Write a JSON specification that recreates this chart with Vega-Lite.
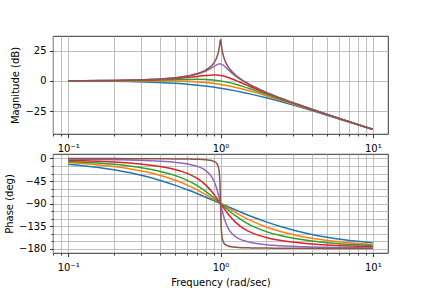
{
  "$schema": "https://vega.github.io/schema/vega-lite/v6.json",
  "background": "white",
  "padding": {"left": 4, "top": 35, "right": 43, "bottom": 2},
  "config": {
    "font": "DejaVu Sans",
    "view": {"stroke": "black", "strokeWidth": 0.8},
    "axis": {
      "domain": false,
      "labelFont": "DejaVu Sans",
      "titleFont": "DejaVu Sans",
      "labelFontSize": 10,
      "titleFontSize": 10,
      "titleFontWeight": "normal",
      "labelColor": "black",
      "titleColor": "black",
      "tickColor": "black",
      "tickWidth": 0.8,
      "gridColor": "#b0b0b0",
      "gridWidth": 0.8,
      "labelPadding": 3.5,
      "labelOverlap": false,
      "labelFlush": false
    },
    "axisX": {"labelPadding": 5.5, "titlePadding": 5}
  },
  "data": {"values": [
    {"z":"1.0","w":0.1,"m":-0.086,"p":-11.42},
    {"z":"1.0","w":0.125893,"m":-0.137,"p":-14.35},
    {"z":"1.0","w":0.158489,"m":-0.216,"p":-18.01},
    {"z":"1.0","w":0.199526,"m":-0.339,"p":-22.57},
    {"z":"1.0","w":0.251189,"m":-0.531,"p":-28.20},
    {"z":"1.0","w":0.316228,"m":-0.828,"p":-35.10},
    {"z":"1.0","w":0.398107,"m":-1.278,"p":-43.41},
    {"z":"1.0","w":0.501187,"m":-1.946,"p":-53.24},
    {"z":"1.0","w":0.630957,"m":-2.911,"p":-64.49},
    {"z":"1.0","w":0.707946,"m":-3.529,"p":-70.60},
    {"z":"1.0","w":0.794328,"m":-4.249,"p":-76.92},
    {"z":"1.0","w":0.891251,"m":-5.078,"p":-83.42},
    {"z":"1.0","w":1,"m":-6.021,"p":-90},
    {"z":"1.0","w":1.122018,"m":-7.078,"p":-96.58},
    {"z":"1.0","w":1.258925,"m":-8.249,"p":-103.08},
    {"z":"1.0","w":1.412538,"m":-9.529,"p":-109.40},
    {"z":"1.0","w":1.584893,"m":-10.911,"p":-115.51},
    {"z":"1.0","w":1.995262,"m":-13.946,"p":-126.76},
    {"z":"1.0","w":2.511886,"m":-17.278,"p":-136.59},
    {"z":"1.0","w":3.162278,"m":-20.828,"p":-144.90},
    {"z":"1.0","w":3.981072,"m":-24.531,"p":-151.80},
    {"z":"1.0","w":5.011872,"m":-28.339,"p":-157.43},
    {"z":"1.0","w":6.309573,"m":-32.216,"p":-161.99},
    {"z":"1.0","w":7.943282,"m":-36.137,"p":-165.65},
    {"z":"1.0","w":10,"m":-40.086,"p":-168.58},

    {"z":"0.7","w":0.1,"m":0.001,"p":-8.05},
    {"z":"0.7","w":0.125893,"m":0.002,"p":-10.15},
    {"z":"0.7","w":0.158489,"m":0.002,"p":-12.82},
    {"z":"0.7","w":0.199526,"m":0.000,"p":-16.22},
    {"z":"0.7","w":0.251189,"m":-0.006,"p":-20.57},
    {"z":"0.7","w":0.316228,"m":-0.026,"p":-26.19},
    {"z":"0.7","w":0.398107,"m":-0.081,"p":-33.52},
    {"z":"0.7","w":0.501187,"m":-0.225,"p":-43.14},
    {"z":"0.7","w":0.630957,"m":-0.579,"p":-55.73},
    {"z":"0.7","w":0.707946,"m":-0.903,"p":-63.29},
    {"z":"0.7","w":0.794328,"m":-1.376,"p":-71.64},
    {"z":"0.7","w":0.891251,"m":-2.039,"p":-80.64},
    {"z":"0.7","w":1,"m":-2.923,"p":-90},
    {"z":"0.7","w":1.122018,"m":-4.039,"p":-99.36},
    {"z":"0.7","w":1.258925,"m":-5.376,"p":-108.36},
    {"z":"0.7","w":1.412538,"m":-6.903,"p":-116.71},
    {"z":"0.7","w":1.584893,"m":-8.579,"p":-124.27},
    {"z":"0.7","w":1.995262,"m":-12.225,"p":-136.86},
    {"z":"0.7","w":2.511886,"m":-16.081,"p":-146.48},
    {"z":"0.7","w":3.162278,"m":-20.026,"p":-153.81},
    {"z":"0.7","w":3.981072,"m":-24.006,"p":-159.43},
    {"z":"0.7","w":5.011872,"m":-28.000,"p":-163.78},
    {"z":"0.7","w":6.309573,"m":-31.998,"p":-167.18},
    {"z":"0.7","w":7.943282,"m":-35.998,"p":-169.85},
    {"z":"0.7","w":10,"m":-39.999,"p":-171.95},

    {"z":"0.5","w":0.1,"m":0.043,"p":-5.77},
    {"z":"0.5","w":0.125893,"m":0.068,"p":-7.29},
    {"z":"0.5","w":0.158489,"m":0.108,"p":-9.23},
    {"z":"0.5","w":0.199526,"m":0.169,"p":-11.74},
    {"z":"0.5","w":0.251189,"m":0.265,"p":-15.01},
    {"z":"0.5","w":0.316228,"m":0.410,"p":-19.36},
    {"z":"0.5","w":0.398107,"m":0.622,"p":-25.32},
    {"z":"0.5","w":0.501187,"m":0.905,"p":-33.80},
    {"z":"0.5","w":0.630957,"m":1.190,"p":-46.35},
    {"z":"0.5","w":0.707946,"m":1.249,"p":-54.83},
    {"z":"0.5","w":0.794328,"m":1.151,"p":-65.08},
    {"z":"0.5","w":0.891251,"m":0.775,"p":-77.01},
    {"z":"0.5","w":1,"m":0,"p":-90},
    {"z":"0.5","w":1.122018,"m":-1.225,"p":-102.99},
    {"z":"0.5","w":1.258925,"m":-2.849,"p":-114.92},
    {"z":"0.5","w":1.412538,"m":-4.751,"p":-125.17},
    {"z":"0.5","w":1.584893,"m":-6.810,"p":-133.65},
    {"z":"0.5","w":1.995262,"m":-11.095,"p":-146.20},
    {"z":"0.5","w":2.511886,"m":-15.378,"p":-154.68},
    {"z":"0.5","w":3.162278,"m":-19.590,"p":-160.64},
    {"z":"0.5","w":3.981072,"m":-23.735,"p":-164.99},
    {"z":"0.5","w":5.011872,"m":-27.831,"p":-168.26},
    {"z":"0.5","w":6.309573,"m":-31.892,"p":-170.77},
    {"z":"0.5","w":7.943282,"m":-35.932,"p":-172.71},
    {"z":"0.5","w":10,"m":-39.957,"p":-174.23},

    {"z":"0.3","w":0.1,"m":0.071,"p":-3.47},
    {"z":"0.3","w":0.125893,"m":0.113,"p":-4.39},
    {"z":"0.3","w":0.158489,"m":0.180,"p":-5.57},
    {"z":"0.3","w":0.199526,"m":0.286,"p":-7.11},
    {"z":"0.3","w":0.251189,"m":0.455,"p":-9.14},
    {"z":"0.3","w":0.316228,"m":0.726,"p":-11.90},
    {"z":"0.3","w":0.398107,"m":1.162,"p":-15.85},
    {"z":"0.3","w":0.501187,"m":1.863,"p":-21.88},
    {"z":"0.3","w":0.630957,"m":2.962,"p":-32.17},
    {"z":"0.3","w":0.707946,"m":3.673,"p":-40.42},
    {"z":"0.3","w":0.794328,"m":4.397,"p":-52.25},
    {"z":"0.3","w":0.891251,"m":4.838,"p":-68.96},
    {"z":"0.3","w":0.944061,"m":4.780,"p":-79.13},
    {"z":"0.3","w":1,"m":4.437,"p":-90},
    {"z":"0.3","w":1.059254,"m":3.780,"p":-100.87},
    {"z":"0.3","w":1.122018,"m":2.838,"p":-111.04},
    {"z":"0.3","w":1.258925,"m":0.397,"p":-127.75},
    {"z":"0.3","w":1.412538,"m":-2.327,"p":-139.58},
    {"z":"0.3","w":1.584893,"m":-5.038,"p":-147.83},
    {"z":"0.3","w":1.995262,"m":-10.137,"p":-158.12},
    {"z":"0.3","w":2.511886,"m":-14.838,"p":-164.15},
    {"z":"0.3","w":3.162278,"m":-19.274,"p":-168.10},
    {"z":"0.3","w":3.981072,"m":-23.545,"p":-170.86},
    {"z":"0.3","w":5.011872,"m":-27.714,"p":-172.89},
    {"z":"0.3","w":6.309573,"m":-31.820,"p":-174.43},
    {"z":"0.3","w":7.943282,"m":-35.887,"p":-175.61},
    {"z":"0.3","w":10,"m":-39.929,"p":-176.53},

    {"z":"0.1","w":0.1,"m":0.086,"p":-1.16},
    {"z":"0.1","w":0.125893,"m":0.136,"p":-1.47},
    {"z":"0.1","w":0.158489,"m":0.216,"p":-1.86},
    {"z":"0.1","w":0.199526,"m":0.345,"p":-2.38},
    {"z":"0.1","w":0.251189,"m":0.554,"p":-3.07},
    {"z":"0.1","w":0.316228,"m":0.894,"p":-4.02},
    {"z":"0.1","w":0.398107,"m":1.460,"p":-5.41},
    {"z":"0.1","w":0.501187,"m":2.435,"p":-7.62},
    {"z":"0.1","w":0.630957,"m":4.223,"p":-11.84},
    {"z":"0.1","w":0.707946,"m":5.705,"p":-15.85},
    {"z":"0.1","w":0.794328,"m":7.920,"p":-23.29},
    {"z":"0.1","w":0.841395,"m":9.446,"p":-29.95},
    {"z":"0.1","w":0.891251,"m":11.303,"p":-40.91},
    {"z":"0.1","w":0.922571,"m":12.502,"p":-51.10},
    {"z":"0.1","w":0.944061,"m":13.235,"p":-60.06},
    {"z":"0.1","w":0.966051,"m":13.790,"p":-70.94},
    {"z":"0.1","w":0.977237,"m":13.955,"p":-77.03},
    {"z":"0.1","w":0.988553,"m":14.022,"p":-83.43},
    {"z":"0.1","w":1,"m":13.979,"p":-90},
    {"z":"0.1","w":1.011579,"m":13.822,"p":-96.57},
    {"z":"0.1","w":1.023293,"m":13.555,"p":-102.97},
    {"z":"0.1","w":1.035142,"m":13.190,"p":-109.06},
    {"z":"0.1","w":1.059254,"m":12.235,"p":-119.94},
    {"z":"0.1","w":1.083927,"m":11.102,"p":-128.90},
    {"z":"0.1","w":1.122018,"m":9.303,"p":-139.09},
    {"z":"0.1","w":1.188502,"m":6.446,"p":-150.05},
    {"z":"0.1","w":1.258925,"m":3.920,"p":-156.71},
    {"z":"0.1","w":1.412538,"m":-0.295,"p":-164.15},
    {"z":"0.1","w":1.584893,"m":-3.777,"p":-168.16},
    {"z":"0.1","w":1.995262,"m":-9.565,"p":-172.38},
    {"z":"0.1","w":2.511886,"m":-14.540,"p":-174.60},
    {"z":"0.1","w":3.162278,"m":-19.106,"p":-175.98},
    {"z":"0.1","w":3.981072,"m":-23.446,"p":-176.93},
    {"z":"0.1","w":5.011872,"m":-27.655,"p":-177.62},
    {"z":"0.1","w":6.309573,"m":-31.784,"p":-178.14},
    {"z":"0.1","w":7.943282,"m":-35.864,"p":-178.53},
    {"z":"0.1","w":10,"m":-39.914,"p":-178.84},

    {"z":"0.01","w":0.1,"m":0.087,"p":-0.12},
    {"z":"0.01","w":0.125893,"m":0.139,"p":-0.15},
    {"z":"0.01","w":0.158489,"m":0.221,"p":-0.19},
    {"z":"0.01","w":0.199526,"m":0.353,"p":-0.24},
    {"z":"0.01","w":0.251189,"m":0.566,"p":-0.31},
    {"z":"0.01","w":0.316228,"m":0.915,"p":-0.40},
    {"z":"0.01","w":0.398107,"m":1.498,"p":-0.54},
    {"z":"0.01","w":0.501187,"m":2.512,"p":-0.77},
    {"z":"0.01","w":0.630957,"m":4.408,"p":-1.20},
    {"z":"0.01","w":0.707946,"m":6.038,"p":-1.63},
    {"z":"0.01","w":0.794328,"m":8.651,"p":-2.47},
    {"z":"0.01","w":0.841395,"m":10.676,"p":-3.30},
    {"z":"0.01","w":0.891251,"m":13.704,"p":-4.95},
    {"z":"0.01","w":0.922571,"m":16.478,"p":-7.07},
    {"z":"0.01","w":0.944061,"m":19.142,"p":-9.85},
    {"z":"0.01","w":0.966051,"m":23.162,"p":-16.14},
    {"z":"0.01","w":0.977237,"m":26.184,"p":-23.47},
    {"z":"0.01","w":0.984011,"m":28.559,"p":-31.81},
    {"z":"0.01","w":0.988553,"m":30.414,"p":-40.97},
    {"z":"0.01","w":0.993116,"m":32.345,"p":-55.36},
    {"z":"0.01","w":0.995405,"m":33.184,"p":-65.27},
    {"z":"0.01","w":0.9977,"m":33.775,"p":-77.03},
    {"z":"0.01","w":1,"m":33.979,"p":-90},
    {"z":"0.01","w":1.002305,"m":33.735,"p":-102.97},
    {"z":"0.01","w":1.004616,"m":33.104,"p":-114.73},
    {"z":"0.01","w":1.006932,"m":32.225,"p":-124.64},
    {"z":"0.01","w":1.011579,"m":30.214,"p":-139.03},
    {"z":"0.01","w":1.016249,"m":28.279,"p":-148.19},
    {"z":"0.01","w":1.023293,"m":25.784,"p":-156.53},
    {"z":"0.01","w":1.035142,"m":22.562,"p":-163.86},
    {"z":"0.01","w":1.059254,"m":18.142,"p":-170.15},
    {"z":"0.01","w":1.083927,"m":15.078,"p":-172.93},
    {"z":"0.01","w":1.122018,"m":11.704,"p":-175.05},
    {"z":"0.01","w":1.188502,"m":7.676,"p":-176.70},
    {"z":"0.01","w":1.258925,"m":4.651,"p":-177.54},
    {"z":"0.01","w":1.412538,"m":0.038,"p":-178.37},
    {"z":"0.01","w":1.584893,"m":-3.592,"p":-178.80},
    {"z":"0.01","w":1.995262,"m":-9.488,"p":-179.23},
    {"z":"0.01","w":2.511886,"m":-14.502,"p":-179.46},
    {"z":"0.01","w":3.162278,"m":-19.085,"p":-179.60},
    {"z":"0.01","w":3.981072,"m":-23.434,"p":-179.69},
    {"z":"0.01","w":5.011872,"m":-27.647,"p":-179.76},
    {"z":"0.01","w":6.309573,"m":-31.779,"p":-179.81},
    {"z":"0.01","w":7.943282,"m":-35.861,"p":-179.85},
    {"z":"0.01","w":10,"m":-39.913,"p":-179.88}
  ]},
  "bounds": "flush",
  "spacing": 20,
  "vconcat": [
    {
      "width": 335,
      "height": 98,
      "mark": {"type": "line", "strokeWidth": 1.5, "interpolate": "monotone", "clip": true},
      "encoding": {
        "x": {
          "field": "w", "type": "quantitative",
          "scale": {"type": "log", "domain": [0.0794328, 12.589254], "nice": false},
          "axis": {
            "title": null,
            "grid": true,
            "values": [0.08, 0.09, 0.1, 0.2, 0.3, 0.4, 0.5, 0.6, 0.7, 0.8, 0.9, 1, 2, 3, 4, 5, 6, 7, 8, 9, 10],
            "labelExpr": "datum.value == 0.1 ? '10⁻¹' : datum.value == 1 ? '10⁰' : datum.value == 10 ? '10¹' : ''",
            "tickSize": {"condition": {"test": "datum.value == 0.1 || datum.value == 1 || datum.value == 10", "value": 3.5}, "value": 2}
          }
        },
        "y": {
          "field": "m", "type": "quantitative",
          "scale": {"domain": [-43.8, 37], "nice": false, "zero": false},
          "axis": {"title": "Magnitude (dB)", "grid": true, "values": [-25, 0, 25], "tickSize": 3.5}
        },
        "color": {
          "field": "z", "type": "nominal", "legend": null,
          "scale": {"domain": ["1.0", "0.7", "0.5", "0.3", "0.1", "0.01"], "range": ["#1f77b4", "#ff7f0e", "#2ca02c", "#d62728", "#9467bd", "#8c564b"]}
        }
      }
    },
    {
      "width": 335,
      "height": 99,
      "mark": {"type": "line", "strokeWidth": 1.5, "interpolate": "monotone", "clip": true},
      "encoding": {
        "x": {
          "field": "w", "type": "quantitative",
          "scale": {"type": "log", "domain": [0.0794328, 12.589254], "nice": false},
          "axis": {
            "title": "Frequency (rad/sec)",
            "grid": true,
            "values": [0.08, 0.09, 0.1, 0.2, 0.3, 0.4, 0.5, 0.6, 0.7, 0.8, 0.9, 1, 2, 3, 4, 5, 6, 7, 8, 9, 10],
            "labelExpr": "datum.value == 0.1 ? '10⁻¹' : datum.value == 1 ? '10⁰' : datum.value == 10 ? '10¹' : ''",
            "tickSize": {"condition": {"test": "datum.value == 0.1 || datum.value == 1 || datum.value == 10", "value": 3.5}, "value": 2}
          }
        },
        "y": {
          "field": "p", "type": "quantitative",
          "scale": {"domain": [-189, 9], "nice": false, "zero": false},
          "axis": {
            "title": "Phase (deg)",
            "grid": true,
            "values": [-180, -165, -150, -135, -120, -105, -90, -75, -60, -45, -30, -15, 0],
            "labelExpr": "datum.value % 45 == 0 ? datum.label : ''",
            "tickSize": {"condition": {"test": "datum.value % 45 == 0", "value": 3.5}, "value": 2}
          }
        },
        "color": {
          "field": "z", "type": "nominal", "legend": null,
          "scale": {"domain": ["1.0", "0.7", "0.5", "0.3", "0.1", "0.01"], "range": ["#1f77b4", "#ff7f0e", "#2ca02c", "#d62728", "#9467bd", "#8c564b"]}
        }
      }
    }
  ]
}
